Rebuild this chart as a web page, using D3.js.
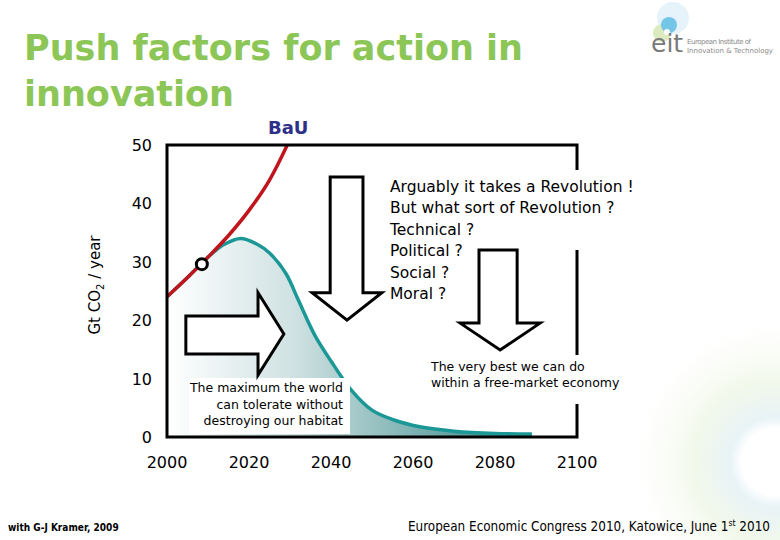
<!DOCTYPE html>
<html>
<head>
<meta charset="utf-8">
<script src="https://cdn.jsdelivr.net/npm/d3@7"></script>
<style>
  body { margin: 0; background: #fff; }
  text { font-family: "DejaVu Sans", Verdana, sans-serif; }
</style>
</head>
<body>
<div id="chart"></div>
<script>
// emissions paths, Gt CO2 / year
const bauYears = [2000, 2005, 2010, 2015, 2020, 2025, 2030];
const bauValues = [24.0, 27.3, 30.8, 34.5, 38.8, 44.0, 51.0];

const limitYears = [2000, 2005, 2010, 2014, 2018, 2022, 2025, 2029, 2032, 2036, 2040, 2045, 2050, 2055, 2062, 2070, 2080, 2089];
const limitValues = [24.0, 27.3, 30.8, 33.0, 34.0, 33.0, 31.5, 28.0, 23.5, 17.5, 13.0, 8.0, 4.6, 3.0, 1.7, 1.0, 0.6, 0.5];

const marker = { year: 2008.5, value: 29.6 };

const xTicks = [2000, 2020, 2040, 2060, 2080, 2100];
const yTicks = [0, 10, 20, 30, 40, 50];

const questionLines = [
  "Arguably it takes a Revolution !",
  "But what sort of Revolution ?",
  "Technical ?",
  "Political ?",
  "Social ?",
  "Moral ?",
];
const maxLines = ["The maximum the world", "can tolerate without", "destroying our habitat"];
const bestLines = ["The very best we can do", "within a free-market economy"];

const W = 780, H = 540;
const x = d3.scaleLinear().domain([2000, 2100]).range([167, 577]);
const y = d3.scaleLinear().domain([0, 50]).range([437, 145]);

const svg = d3.select("#chart").append("svg").attr("width", W).attr("height", H);
const defs = svg.append("defs");

// faint watermark rings bottom right
const rg = defs.append("radialGradient").attr("id", "wm")
  .attr("cx", 775).attr("cy", 462).attr("r", 150).attr("gradientUnits", "userSpaceOnUse");
rg.append("stop").attr("offset", "0%").attr("stop-color", "#fff");
rg.append("stop").attr("offset", "22%").attr("stop-color", "#fff");
rg.append("stop").attr("offset", "30%").attr("stop-color", "#e8f3f6");
rg.append("stop").attr("offset", "55%").attr("stop-color", "#f2f8ea");
rg.append("stop").attr("offset", "100%").attr("stop-color", "#fff").attr("stop-opacity", 0);
svg.append("circle").attr("cx", 775).attr("cy", 462).attr("r", 150).attr("fill", "url(#wm)");

const lg = defs.append("linearGradient").attr("id", "fill")
  .attr("gradientUnits", "userSpaceOnUse")
  .attr("x1", x(2000)).attr("x2", x(2089)).attr("y1", 0).attr("y2", 0);
lg.append("stop").attr("offset", "0%").attr("stop-color", "#ffffff");
lg.append("stop").attr("offset", "35%").attr("stop-color", "#cfe1e2");
lg.append("stop").attr("offset", "100%").attr("stop-color", "#2c8382");

defs.append("clipPath").attr("id", "plot")
  .append("rect").attr("x", x(2000)).attr("y", y(50)).attr("width", x(2100) - x(2000)).attr("height", y(0) - y(50));

// title
svg.append("text").attr("x", 24).attr("y", 60)
  .attr("font-size", 35).attr("font-weight", "bold").attr("fill", "#8cc657")
  .text("Push factors for action in");
svg.append("text").attr("x", 24).attr("y", 106)
  .attr("font-size", 35).attr("font-weight", "bold").attr("fill", "#8cc657")
  .text("innovation");
svg.append("text").attr("x", 268).attr("y", 134)
  .attr("font-size", 18).attr("font-weight", "bold").attr("fill", "#2e3088")
  .text("BaU");

// logo
const logo = svg.append("g");
logo.append("circle").attr("cx", 673).attr("cy", 18).attr("r", 16).attr("fill", "#e6f3fa");
logo.append("circle").attr("cx", 662).attr("cy", 33).attr("r", 9).attr("fill", "#dbeabf");
logo.append("circle").attr("cx", 669).attr("cy", 25).attr("r", 8).attr("fill", "#74c6e8");
logo.append("circle").attr("cx", 667).attr("cy", 32).attr("r", 3).attr("fill", "#fff");
logo.append("text").attr("x", 651).attr("y", 52).attr("font-size", 25).attr("fill", "#7a7a7a")
  .attr("font-family", "Liberation Sans, sans-serif").text("eit");
logo.append("text").attr("x", 687).attr("y", 44).attr("font-size", 7).attr("fill", "#8a8a8a")
  .attr("textLength", 64).text("European Institute of");
logo.append("text").attr("x", 687).attr("y", 53).attr("font-size", 7).attr("fill", "#8a8a8a")
  .attr("textLength", 86).text("Innovation & Technology");

// area + lines
const plot = svg.append("g").attr("clip-path", "url(#plot)");
const limitData = limitYears.map((d, i) => ({ year: d, value: limitValues[i] }));
const bauData = bauYears.map((d, i) => ({ year: d, value: bauValues[i] }));

plot.append("path").datum(limitData)
  .attr("fill", "url(#fill)")
  .attr("d", d3.area().curve(d3.curveCatmullRom).x(d => x(d.year)).y0(y(0)).y1(d => y(d.value)));
plot.append("path").datum(limitData)
  .attr("fill", "none").attr("stroke", "#1b9896").attr("stroke-width", 3.5)
  .attr("d", d3.line().curve(d3.curveCatmullRom).x(d => x(d.year)).y(d => y(d.value)));
plot.append("path").datum(bauData)
  .attr("fill", "none").attr("stroke", "#c0151c").attr("stroke-width", 3.5)
  .attr("d", d3.line().curve(d3.curveCatmullRom).x(d => x(d.year)).y(d => y(d.value)));

// frame
svg.append("rect").attr("x", x(2000)).attr("y", y(50))
  .attr("width", x(2100) - x(2000)).attr("height", y(0) - y(50))
  .attr("fill", "none").attr("stroke", "#000").attr("stroke-width", 3);

// axes labels
svg.selectAll(".ytick").data(yTicks).enter().append("text")
  .attr("x", 152).attr("y", d => y(d) + 6).attr("text-anchor", "end")
  .attr("font-size", 16).attr("fill", "#000").text(d => d);
svg.selectAll(".xtick").data(xTicks).enter().append("text")
  .attr("x", d => x(d)).attr("y", 468).attr("text-anchor", "middle")
  .attr("font-size", 16).attr("fill", "#000").text(d => d);

const yl = svg.append("text").attr("transform", "translate(100,285) rotate(-90)")
  .attr("text-anchor", "middle").attr("font-size", 15).attr("fill", "#000");
yl.append("tspan").text("Gt CO");
yl.append("tspan").attr("font-size", 10).attr("dy", 4).text("2");
yl.append("tspan").attr("dy", -4).text(" / year");

// text boxes (cover the frame)
svg.append("rect").attr("x", 386).attr("y", 170).attr("width", 258).attr("height", 80).attr("fill", "#fff");
svg.append("rect").attr("x", 426).attr("y", 355).attr("width", 194).attr("height", 49).attr("fill", "#fff");
svg.append("rect").attr("x", 189).attr("y", 378).attr("width", 161).attr("height", 56).attr("fill", "#fff");

// block arrows, in data units
function downArrow(x0, x1, top, headY, hx0, hx1, tipY) {
  const p = d3.path();
  p.moveTo(x(x0), y(top)); p.lineTo(x(x1), y(top)); p.lineTo(x(x1), y(headY));
  p.lineTo(x(hx1), y(headY)); p.lineTo(x((hx0 + hx1) / 2), y(tipY)); p.lineTo(x(hx0), y(headY));
  p.lineTo(x(x0), y(headY)); p.closePath();
  return p.toString();
}
function rightArrow(left, baseX, v0, v1, h0, h1, tipX) {
  const p = d3.path();
  p.moveTo(x(left), y(v0)); p.lineTo(x(baseX), y(v0)); p.lineTo(x(baseX), y(h0));
  p.lineTo(x(tipX), y((h0 + h1) / 2)); p.lineTo(x(baseX), y(h1)); p.lineTo(x(baseX), y(v1));
  p.lineTo(x(left), y(v1)); p.closePath();
  return p.toString();
}
const arrows = [
  downArrow(2039.8, 2047.8, 44.5, 24.7, 2035.4, 2052.4, 20.0),
  downArrow(2076.1, 2085.4, 32.0, 19.5, 2071.5, 2091.0, 14.9),
  rightArrow(2004.6, 2022.2, 20.7, 14.2, 24.7, 10.6, 2028.5),
];
svg.selectAll(".arrow").data(arrows).enter().append("path")
  .attr("d", d => d).attr("fill", "#fff").attr("stroke", "#000")
  .attr("stroke-width", 3).attr("stroke-linejoin", "miter");

// marker
svg.append("circle").attr("cx", x(marker.year)).attr("cy", y(marker.value)).attr("r", 5.5)
  .attr("fill", "#fff").attr("stroke", "#000").attr("stroke-width", 3);

// annotations
svg.selectAll(".q").data(questionLines).enter().append("text")
  .attr("x", 390).attr("y", (d, i) => 192 + i * 21.4)
  .attr("font-size", 15.5).attr("fill", "#000").text(d => d);
svg.selectAll(".m").data(maxLines).enter().append("text")
  .attr("x", 343).attr("y", (d, i) => 392 + i * 16.5).attr("text-anchor", "end")
  .attr("font-size", 12.5).attr("fill", "#000").text(d => d);
svg.selectAll(".b").data(bestLines).enter().append("text")
  .attr("x", 431).attr("y", (d, i) => 371 + i * 16)
  .attr("font-size", 12.5).attr("fill", "#000").text(d => d);

// footer (condensed horizontally)
svg.append("text").attr("transform", "translate(8,531) scale(0.82,1)")
  .attr("font-size", 11).attr("font-weight", "bold")
  .attr("fill", "#000").text("with G-J Kramer, 2009");
const ft = svg.append("text").attr("transform", "translate(770,531) scale(0.86,1)")
  .attr("text-anchor", "end").attr("font-size", 14).attr("fill", "#000");
ft.append("tspan").text("European Economic Congress 2010, Katowice, June 1");
ft.append("tspan").attr("font-size", 9).attr("dy", -5).text("st");
ft.append("tspan").attr("dy", 5).text(" 2010");
</script>
</body>
</html>
